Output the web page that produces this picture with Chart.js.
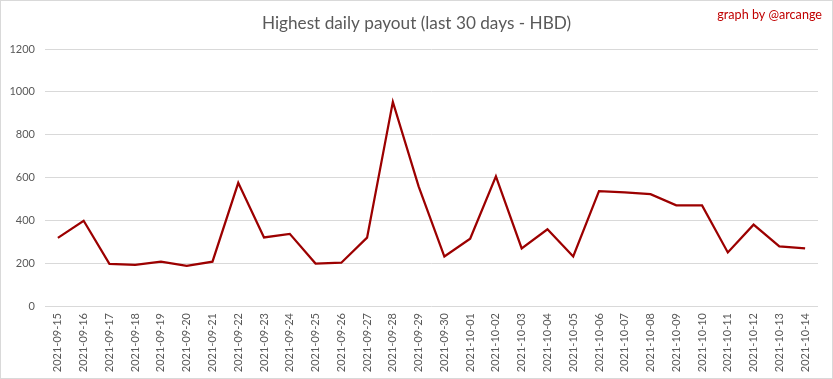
<!DOCTYPE html>
<html>
<head>
<meta charset="utf-8">
<script src="https://cdn.jsdelivr.net/npm/chart.js@4"></script>
<style>
html,body{margin:0;padding:0;background:#fff;}
canvas{display:block;}
</style>
</head>
<body>
<canvas id="c" width="833" height="379"></canvas>
<script>
const categories = ["2021-09-15","2021-09-16","2021-09-17","2021-09-18","2021-09-19","2021-09-20","2021-09-21","2021-09-22","2021-09-23","2021-09-24","2021-09-25","2021-09-26","2021-09-27","2021-09-28","2021-09-29","2021-09-30","2021-10-01","2021-10-02","2021-10-03","2021-10-04","2021-10-05","2021-10-06","2021-10-07","2021-10-08","2021-10-09","2021-10-10","2021-10-11","2021-10-12","2021-10-13","2021-10-14"];
const payout = [318,398,197,192,207,187,207,575,320,337,198,202,319,953,559,231,314,605,269,358,231,536,531,522,470,470,250,380,278,269];
const yTicks = [0,200,400,600,800,1000,1200];
const titleText = "Highest daily payout (last 30 days - HBD)";
const creditText = "graph by @arcange";

const FONT = "Lato, 'Open Sans', sans-serif";

const decor = {
  id: 'decor',
  beforeDraw(chart) {
    const ctx = chart.ctx;
    ctx.save();
    ctx.fillStyle = '#fff';
    ctx.fillRect(0, 0, chart.width, chart.height);
    ctx.restore();
  },
  afterDraw(chart) {
    const ctx = chart.ctx;
    ctx.save();
    ctx.strokeStyle = '#d9d9d9';
    ctx.lineWidth = 1;
    ctx.strokeRect(0.5, 0.5, chart.width - 1, chart.height - 1);
    ctx.fillStyle = '#595959';
    ctx.font = "17.2px " + FONT;
    ctx.textAlign = 'center';
    ctx.textBaseline = 'middle';
    ctx.fillText(titleText, chart.width / 2, 23);
    ctx.fillStyle = '#c00000';
    ctx.font = "12.6px " + FONT;
    ctx.textAlign = 'right';
    ctx.fillText(creditText, 822, 15);
    ctx.restore();
  }
};

new Chart(document.getElementById('c'), {
  type: 'line',
  data: {
    labels: categories,
    datasets: [{
      data: payout,
      borderColor: '#9c0000',
      borderWidth: 2.25,
      pointRadius: 0,
      tension: 0,
      fill: false
    }]
  },
  options: {
    responsive: false,
    animation: false,
    events: [],
    layout: { padding: { top: 49, right: 15, left: 0, bottom: 0 } },
    plugins: { legend: { display: false }, title: { display: false }, tooltip: { enabled: false } },
    scales: {
      x: {
        offset: true,
        grid: { display: false, drawTicks: false },
        border: { display: false },
        ticks: {
          autoSkip: false, minRotation: 90, maxRotation: 90,
          padding: 7, color: '#595959', font: { family: FONT, size: 11 }
        },
        afterFit(s) { s.height = 73; }
      },
      y: {
        min: 0, max: 1200,
        afterBuildTicks(s) { s.ticks = yTicks.map(v => ({ value: v })); },
        grid: { color: '#d9d9d9', lineWidth: 1, drawTicks: false },
        border: { display: false },
        ticks: { padding: 10, color: '#595959', font: { family: FONT, size: 11 }, callback: v => String(v) },
        afterFit(s) { s.width = 45; }
      }
    }
  },
  plugins: [decor]
});
</script>
</body>
</html>
